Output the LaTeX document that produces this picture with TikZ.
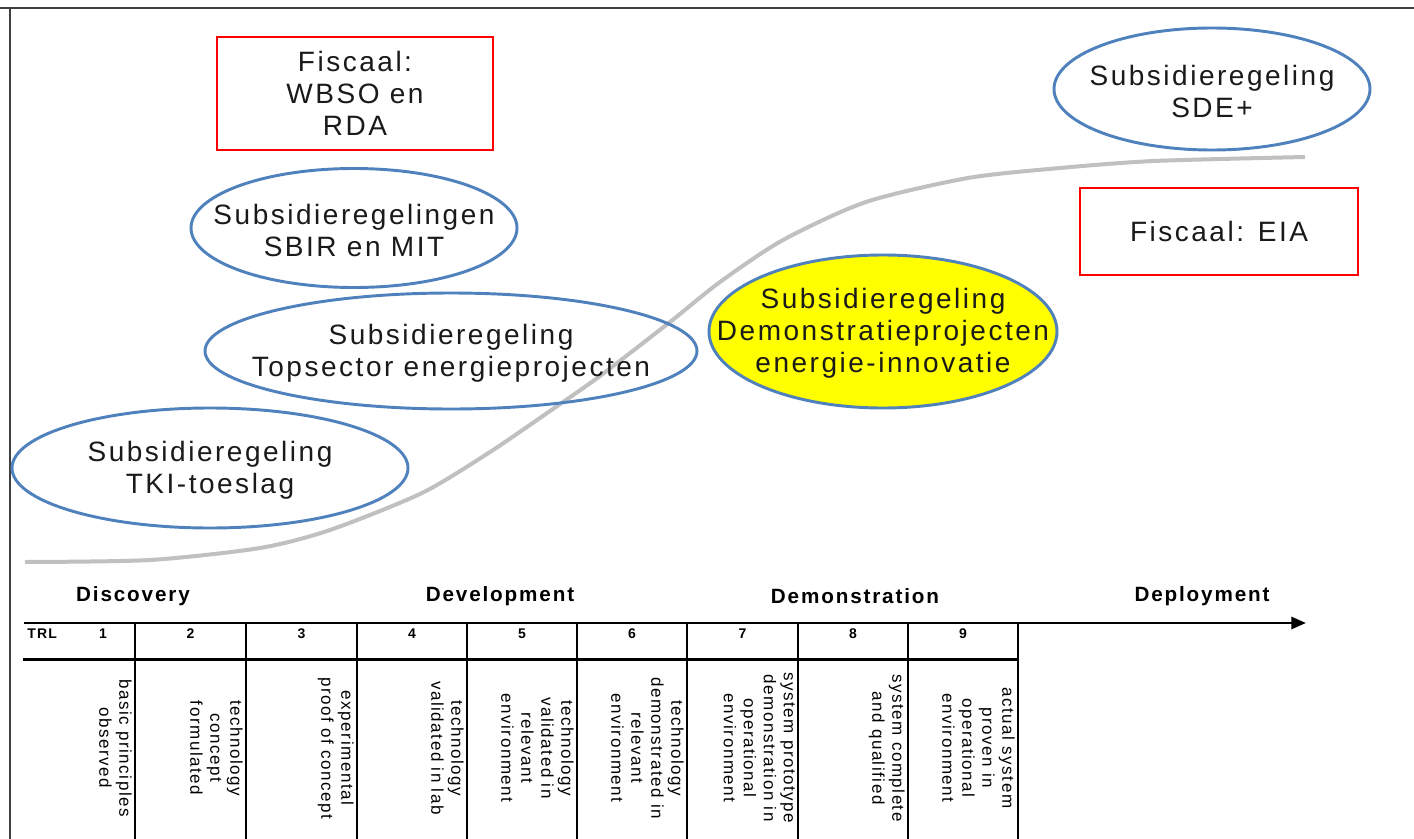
\documentclass[tikz,border=0pt]{standalone}
\usepackage{fontspec}
\setmainfont{Liberation Sans}
\newfontfamily\lbfont[LetterSpace=9]{Liberation Sans}
\usetikzlibrary{shapes.geometric,arrows.meta}
\definecolor{ovalblue}{HTML}{4F81BD}
\definecolor{curvegrey}{HTML}{C0C0C0}
\definecolor{ink}{HTML}{1A1A1A}
\definecolor{frameline}{HTML}{404040}
\definecolor{boxred}{HTML}{FF0000}
\definecolor{hiyellow}{HTML}{FFFF00}
\begin{document}
\begin{tikzpicture}[x=0.75pt,y=-0.75pt,
  wh/.style 2 args={minimum width=#1*0.75pt, minimum height=#2*0.75pt},
  oval/.style={ellipse, draw=ovalblue, line width=2.2pt, inner sep=0pt},
  redbox/.style={rectangle, draw=boxred, line width=2.2pt, inner sep=0pt},
  lbl/.style={align=center, text=ink, inner sep=0pt, font={\lbfont\fontsize{21pt}{24pt}\selectfont}},
  phase/.style={text=black, inner sep=0pt, font={\lbfont\bfseries\fontsize{15.5pt}{18pt}\selectfont}},
  trl/.style={text=black, inner sep=0pt, font={\lbfont\bfseries\fontsize{10.5pt}{12pt}\selectfont}},
  cell/.style={rotate=-90, anchor=north, align=center, inner sep=0pt, text=black, font={\lbfont\fontsize{12.75pt}{15pt}\selectfont}},
  tline/.style={black, line width=1.8pt},
]
\useasboundingbox (0,0) rectangle (1414,839);
\fill[white] (0,0) rectangle (1414,839);

% frame
\draw[frameline, line width=1.5pt] (0,8) -- (1414,8);
\draw[frameline, line width=1.5pt] (10,8) -- (10,839);

% grey S-curve
\draw[curvegrey, line width=3pt] plot[smooth, tension=0.45] coordinates {
  (25,562) (150,560) (260,548) (330,530) (422,493) (490,452) (550,411)
  (600,376) (670,322) (720,282) (783,240) (866,202) (968,178) (1060,168)
  (1154,161) (1305,157)};

% boxes and ovals
\node[redbox, wh={276}{113}] (wbso) at (355,93.5) {};
\node[lbl] (wbsot) at (wbso.center) {Fiscaal:\\WBSO en\\RDA};

\node[oval, wh={326}{119}] (sbir) at (354,228) {};
\node[lbl] (sbirt) at ([yshift=-1.5pt]sbir.center) {Subsidieregelingen\\SBIR en MIT};

\node[oval, wh={492}{116}] (tops) at (451,351) {};
\node[lbl] (topst) at ([yshift=-2pt]tops.center) {Subsidieregeling\\Topsector energieprojecten};

\node[oval, wh={396}{120}] (tki) at (210,468) {};
\node[lbl] (tkit) at ([yshift=-1.5pt]tki.center) {Subsidieregeling\\TKI-toeslag};

\node[oval, wh={316}{122}] (sde) at (1212,89) {};
\node[lbl] (sdet) at ([yshift=-1.5pt]sde.center) {Subsidieregeling\\SDE+};

\node[redbox, wh={278}{87}] (eia) at (1219,231.5) {};
\node[lbl] (eiat) at (eia.center) {Fiscaal: EIA};

\node[oval, fill=hiyellow, wh={348}{153}] (demo) at (883,331.5) {};
\node[lbl] (demot) at ([yshift=-1.5pt]demo.center) {Subsidieregeling\\Demonstratieprojecten\\energie-innovatie};

% phase labels
\node[phase] (ph1) at (133,596) {Discovery};
\node[phase] (ph2) at (500,596) {Development};
\node[phase] (ph3) at (855,596) {Demonstration};
\node[phase] (ph4) at (1202,596) {Deployment};

% TRL numbers
\node[trl, anchor=west] (trlt) at (27,634) {TRL};
\node[trl] (n1) at (103,634) {1};
\node[trl] (n2) at (190.5,634) {2};
\node[trl] (n3) at (301.5,634) {3};
\node[trl] (n4) at (412,634) {4};
\node[trl] (n5) at (522,634) {5};
\node[trl] (n6) at (632,634) {6};
\node[trl] (n7) at (742.5,634) {7};
\node[trl] (n8) at (853,634) {8};
\node[trl] (n9) at (963,634) {9};

% table lines
\draw[tline] (23,659.5) -- (1018,659.5);
\foreach \xx in {135,246,357,467,577,687,798,908,1018}
  \draw[tline] (\xx,623) -- (\xx,839);

% axis arrow
\coordinate (axs) at (24,623);
\coordinate (axe) at (1306,623);
\draw[black, line width=2.2pt, -{Triangle[length=11pt,width=9pt]}] (axs) -- (axe);

% rotated cell texts
\node[cell] (c1) at (132,748) {basic principles\\observed};
\node[cell] (c2) at (243,748) {technology\\concept\\formulated};
\node[cell] (c3) at (354,748) {experimental\\proof of concept};
\node[cell] (c4) at (464,748) {technology\\validated in lab};
\node[cell] (c5) at (574,748) {technology\\validated in\\relevant\\environment};
\node[cell] (c6) at (684,748) {technology\\demonstrated in\\relevant\\environment};
\node[cell] (c7) at (795,748) {system prototype\\demonstration in\\operational\\environment};
\node[cell] (c8) at (905,748) {system complete\\and qualified};
\node[cell] (c9) at (1015,748) {actual system\\proven in\\operational\\environment};
\end{tikzpicture}
\end{document}
